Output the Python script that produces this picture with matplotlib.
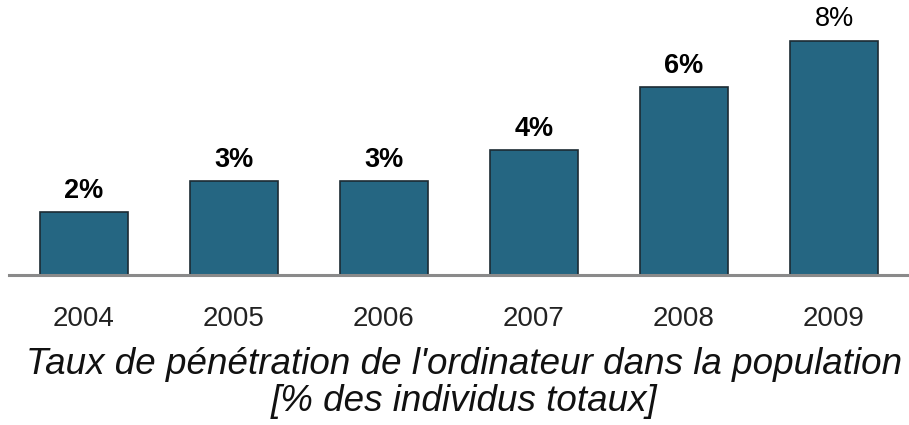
import matplotlib
matplotlib.use('Agg')
import matplotlib.pyplot as plt

# data
years = ['2004', '2005', '2006', '2007', '2008', '2009']
rates = [2.0, 3.0, 3.0, 4.0, 6.0, 7.5]
rate_labels = ['2%', '3%', '3%', '4%', '6%', '8%']
title = "Taux de pénétration de l'ordinateur dans la population\n[% des individus totaux]"

plt.rcParams['font.family'] = ['Liberation Sans', 'DejaVu Sans']

fig = plt.figure(figsize=(9.09, 4.25), dpi=100)
ax = fig.add_axes([9 / 909, 0.353, 900 / 909, 0.647])

x = range(len(years))
bars = ax.bar(x, rates, width=0.59, color='#256682', edgecolor='#1c2b33', linewidth=1.2, zorder=2)

labels = ax.bar_label(bars, labels=rate_labels, padding=6, fontsize=19.5, fontweight='bold')
# the last label is drawn in regular weight in the original
labels[-1].set_fontweight('normal')

ax.set_xlim(-0.5, 5.5)
ax.set_ylim(0, 8.8)
ax.set_xticks(list(x))
ax.set_xticklabels(years, fontsize=20)
ax.tick_params(axis='x', length=0, pad=22, colors='#222222')
ax.set_yticks([])

for side in ['top', 'right', 'left']:
    ax.spines[side].set_visible(False)
ax.spines['bottom'].set_color('#8a8a8a')
ax.spines['bottom'].set_linewidth(2.2)
ax.spines['bottom'].set_zorder(3)

fig.text(0.511, 0.099, title, ha='center', va='center', fontsize=26.5,
         style='italic', linespacing=1.1, color='#111111')

fig.savefig('out.png', dpi=100)
